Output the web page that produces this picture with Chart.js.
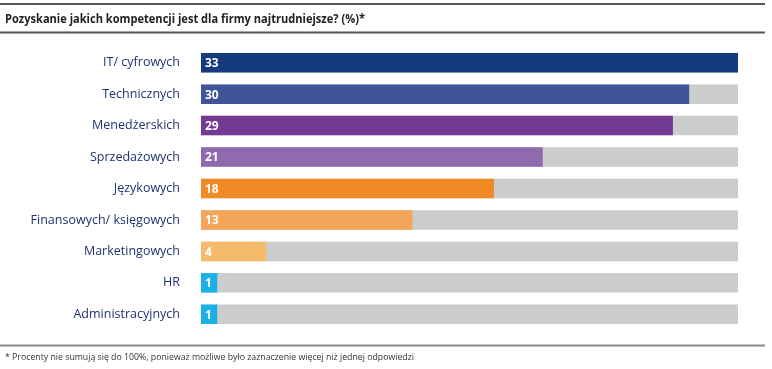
<!DOCTYPE html>
<html>
<head>
<meta charset="utf-8">
<script src="https://cdn.jsdelivr.net/npm/chart.js@4.4.0/dist/chart.umd.min.js"></script>
<style>
  html, body { margin: 0; padding: 0; background: #ffffff; }
  #wrap { position: relative; width: 772px; height: 369px; }
</style>
</head>
<body>
<div id="wrap"><canvas id="chart" width="772" height="369"></canvas></div>
<script>
// dane z wykresu
const categories = [
  "IT/ cyfrowych",
  "Technicznych",
  "Menedżerskich",
  "Sprzedażowych",
  "Językowych",
  "Finansowych/ księgowych",
  "Marketingowych",
  "HR",
  "Administracyjnych"
];
const values = [33, 30, 29, 21, 18, 13, 4, 1, 1];
const maxValue = 33;
const barColors = [
  "#163a7e", "#3f5597", "#733a93", "#8f6aae",
  "#f08a24", "#f4a55a", "#f4bb6a", "#1bb0e6", "#1bb0e6"
];

const titleText = "Pozyskanie jakich kompetencji jest dla firmy najtrudniejsze? (%)*";
const footnoteText = "* Procenty nie sumują się do 100%, ponieważ możliwe było zaznaczenie więcej niż jednej odpowiedzi";

// tekst sciskany do zadanej szerokosci
function fitText(ctx, text, x, y, width) {
  const w = ctx.measureText(text).width;
  ctx.save();
  ctx.translate(x, y);
  ctx.scale(Math.min(1, width / w), 1);
  ctx.fillText(text, 0, 0);
  ctx.restore();
}

// plugin: tytul, linie i przypis
const framePlugin = {
  id: "frame",
  beforeDraw(chart) {
    const ctx = chart.ctx;
    ctx.save();
    ctx.lineWidth = 1.8;
    ctx.strokeStyle = "#555555";
    [4, 32.5].forEach((y) => {
      ctx.beginPath();
      ctx.moveTo(0, y);
      ctx.lineTo(765, y);
      ctx.stroke();
    });
    ctx.strokeStyle = "#888888";
    ctx.beginPath();
    ctx.moveTo(0, 345.5);
    ctx.lineTo(765, 345.5);
    ctx.stroke();

    ctx.textBaseline = "middle";
    ctx.fillStyle = "#222222";
    ctx.font = "bold 13px 'Open Sans', sans-serif";
    fitText(ctx, titleText, 5, 19, 360);
    ctx.font = "9.5px 'Open Sans', sans-serif";
    ctx.fillStyle = "#333333";
    fitText(ctx, footnoteText, 5, 357, 409);
    ctx.restore();
  }
};

// plugin: wartosci na slupkach
const valueLabels = {
  id: "valueLabels",
  afterDatasetsDraw(chart) {
    const ctx = chart.ctx;
    const meta = chart.getDatasetMeta(1);
    ctx.save();
    ctx.fillStyle = "#ffffff";
    ctx.font = "bold 12px 'Open Sans', sans-serif";
    ctx.textBaseline = "middle";
    meta.data.forEach((bar, i) => {
      ctx.fillText(values[i], bar.base + 4, bar.y + 1);
    });
    ctx.restore();
  }
};

new Chart(document.getElementById("chart"), {
  type: "bar",
  data: {
    labels: categories,
    datasets: [
      {
        data: categories.map(() => maxValue),
        backgroundColor: "#cccccc",
        grouped: false,
        order: 2,
        barPercentage: 0.62,
        categoryPercentage: 1
      },
      {
        data: values,
        backgroundColor: barColors,
        grouped: false,
        order: 1,
        barPercentage: 0.62,
        categoryPercentage: 1
      }
    ]
  },
  options: {
    indexAxis: "y",
    responsive: false,
    animation: false,
    layout: { padding: { top: 47, bottom: 39, right: 34, left: 0 } },
    plugins: { legend: { display: false }, tooltip: { enabled: false } },
    scales: {
      x: { display: false, min: 0, max: maxValue },
      y: {
        grid: { display: false, drawTicks: false },
        border: { display: false },
        ticks: {
          color: "#1f3372",
          padding: 21,
          font: { family: "'Open Sans', sans-serif", size: 12.5 }
        },
        afterFit(scale) { scale.width = 201; }
      }
    }
  },
  plugins: [framePlugin, valueLabels]
});
</script>
</body>
</html>
